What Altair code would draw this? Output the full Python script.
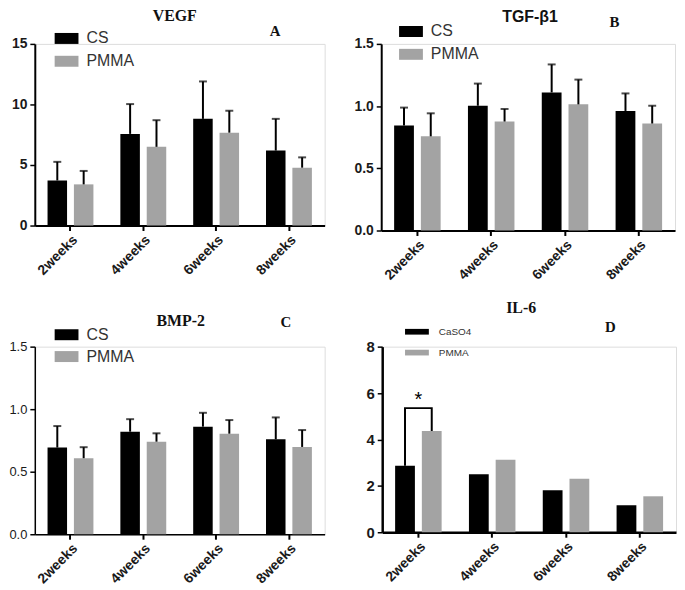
import altair as alt
import pandas as pd

weeks = ["2weeks", "4weeks", "6weeks", "8weeks"]
groups_abc = ["CS", "PMMA"]
groups_d = ["CaSO4", "PMMA"]

# Panel A: VEGF (bar value, top of error bar)
vegf_cs = [3.72, 7.57, 8.81, 6.19]
vegf_cs_up = [5.26, 10.03, 11.9, 8.81]
vegf_pmma = [3.40, 6.50, 7.67, 4.78]
vegf_pmma_up = [4.51, 8.70, 9.48, 5.63]

# Panel B: TGF-β1
tgf_cs = [0.844, 1.003, 1.11, 0.961]
tgf_cs_up = [0.988, 1.181, 1.335, 1.102]
tgf_pmma = [0.757, 0.876, 1.014, 0.86]
tgf_pmma_up = [0.942, 0.977, 1.213, 1.003]

# Panel C: BMP-2
bmp_cs = [0.693, 0.82, 0.86, 0.759]
bmp_cs_up = [0.865, 0.92, 0.971, 0.934]
bmp_pmma = [0.608, 0.74, 0.804, 0.698]
bmp_pmma_up = [0.696, 0.807, 0.913, 0.833]

# Panel D: IL-6 (no error bars)
il6_caso4 = [2.87, 2.50, 1.81, 1.16]
il6_pmma = [4.36, 3.12, 2.31, 1.55]

# significance bracket for 2weeks in panel D
bracket_group = ["CaSO4", "CaSO4", "PMMA", "PMMA"]
bracket_y = [2.87, 5.35, 5.35, 4.36]
star_y = 5.7

BLACK = "#000000"
GRAY = "#a3a3a3"
SANS = "Liberation Sans"
SERIF = "Liberation Serif"


def label_text(text, font, xy, size=16):
    return alt.Chart(pd.DataFrame({"t": [text]})).mark_text(
        font=font, fontWeight="bold", fontSize=size, color="#111111",
        baseline="alphabetic", align="center").encode(
        text="t:N", x=alt.value(xy[0]), y=alt.value(xy[1]))


def panel(title, title_font, title_xy, letter, letter_xy, groups, cs, pm,
          cs_up, pm_up, ymax, yvalues, yfmt, width, height, legend_xy,
          legend_font, legend_path, row_pad, label_offset,
          ylab_weight="bold", ylab_size=14, axis_w=2, extra=None):
    df = pd.DataFrame({
        "week": weeks * 2,
        "group": [groups[0]] * 4 + [groups[1]] * 4,
        "value": cs + pm,
    })
    x = alt.X("week:N", sort=weeks,
              scale=alt.Scale(paddingInner=0.37, paddingOuter=0.175),
              axis=alt.Axis(title=None, labelAngle=-45, labelFont=SANS,
                            labelFontWeight="bold", labelFontSize=14,
                            labelColor="#1a1a1a", tickSize=5, tickWidth=2,
                            tickColor="black", domainColor="black",
                            domainWidth=axis_w, labelPadding=2))
    xo = alt.XOffset("group:N", sort=groups,
                     scale=alt.Scale(paddingInner=0.26, paddingOuter=0))
    y = alt.Y("value:Q", scale=alt.Scale(domain=[0, ymax], nice=False),
              axis=alt.Axis(title=None, values=yvalues, format=yfmt,
                            grid=False, labelFont=SANS,
                            labelFontWeight=ylab_weight,
                            labelFontSize=ylab_size, labelColor="#1a1a1a",
                            tickSize=5, tickWidth=1.5, tickColor="black",
                            domainColor="black", domainWidth=axis_w,
                            labelPadding=3))
    color = alt.Color("group:N", sort=groups,
                      scale=alt.Scale(domain=groups, range=[BLACK, GRAY]),
                      legend=alt.Legend(title=None, orient="none",
                                        legendX=legend_xy[0],
                                        legendY=legend_xy[1],
                                        symbolType=legend_path,
                                        symbolSize=576,
                                        symbolStrokeWidth=0,
                                        symbolOpacity=1,
                                        labelFont=SANS,
                                        labelFontSize=legend_font,
                                        labelColor="#333333",
                                        rowPadding=row_pad,
                                        labelOffset=label_offset,
                                        padding=0))
    bars = alt.Chart(df).mark_bar().encode(x=x, xOffset=xo, y=y, color=color)
    layers = [bars]
    if cs_up is not None:
        edf = pd.DataFrame({
            "week": weeks * 2,
            "group": [groups[0]] * 4 + [groups[1]] * 4,
            "value": cs + pm,
            "upper": cs_up + pm_up,
        })
        base = alt.Chart(edf)
        rule = base.mark_rule(color="black", strokeWidth=2).encode(
            x=alt.X("week:N", sort=weeks),
            xOffset=alt.XOffset("group:N", sort=groups),
            y="value:Q", y2="upper:Q")
        cap = base.mark_tick(color="black", thickness=2, size=8,
                             orient="horizontal").encode(
            x=alt.X("week:N", sort=weeks),
            xOffset=alt.XOffset("group:N", sort=groups),
            y="upper:Q")
        layers += [rule, cap]
    if extra is not None:
        layers += extra
    layers.append(label_text(title, title_font, title_xy))
    layers.append(label_text(letter, SERIF, letter_xy, 15))
    return alt.layer(*layers).properties(width=width, height=height)


path_big = "M-1,-0.46H1V0.46H-1Z"
path_small = "M-1,-0.24H1V0.24H-1Z"

A = panel("VEGF", SERIF, (141, -23), "A", (242, -8), groups_abc,
          vegf_cs, vegf_pmma, vegf_cs_up, vegf_pmma_up, 15, [0, 5, 10, 15],
          "d", 292, 183, (20, -17.5), 16, path_big, 3, 8)
B = panel("TGF-β1", SANS, (150, -22), "B", (235, -17), groups_abc,
          tgf_cs, tgf_pmma, tgf_cs_up, tgf_pmma_up, 1.5,
          [0, 0.5, 1.0, 1.5], ".1f", 296, 188, (18, -24.5), 16, path_big,
          3, 8)

bracket = alt.Chart(pd.DataFrame({
    "week": ["2weeks"] * 4, "group": bracket_group, "y": bracket_y,
    "o": [0, 1, 2, 3]})).mark_line(color="black", strokeWidth=2).encode(
    x=alt.X("week:N", sort=weeks),
    xOffset=alt.XOffset("group:N", sort=groups_d),
    y="y:Q", order="o:Q")
star = alt.Chart(pd.DataFrame({"week": ["2weeks"], "y": [star_y],
                               "t": ["*"]})).mark_text(
    fontSize=20, font=SANS, color="black", baseline="middle").encode(
    x=alt.X("week:N", sort=weeks), y="y:Q", text="t:N")

C = panel("BMP-2", SERIF, (147, -21), "C", (253, -20), groups_abc,
          bmp_cs, bmp_pmma, bmp_cs_up, bmp_pmma_up, 1.5,
          [0, 0.5, 1.0, 1.5], ".1f", 292, 189, (20, -24), 16, path_big,
          2, 8, ylab_weight="normal", ylab_size=13, axis_w=1.5)
D = panel("IL-6", SERIF, (140, -34), "D", (230, -15), groups_d,
          il6_caso4, il6_pmma, None, None, 8, [0, 2, 4, 6, 8], "d",
          296, 187, (23, -27), 10, path_small, 4, 10, ylab_size=15,
          axis_w=2.5, extra=[bracket, star])

indep = dict(color="independent", xOffset="independent")
row1 = alt.hconcat(A, B, spacing=28).resolve_scale(**indep)
row2 = alt.hconcat(C, D, spacing=40).resolve_scale(**indep)
chart = alt.vconcat(row1, row2, spacing=16).resolve_scale(
    **indep).configure_view(stroke=None).configure(
    background="white",
    padding={"top": -3, "left": 0, "right": 0, "bottom": 0})

chart.save("out.html", embed_options={"renderer": "svg", "actions": False})
